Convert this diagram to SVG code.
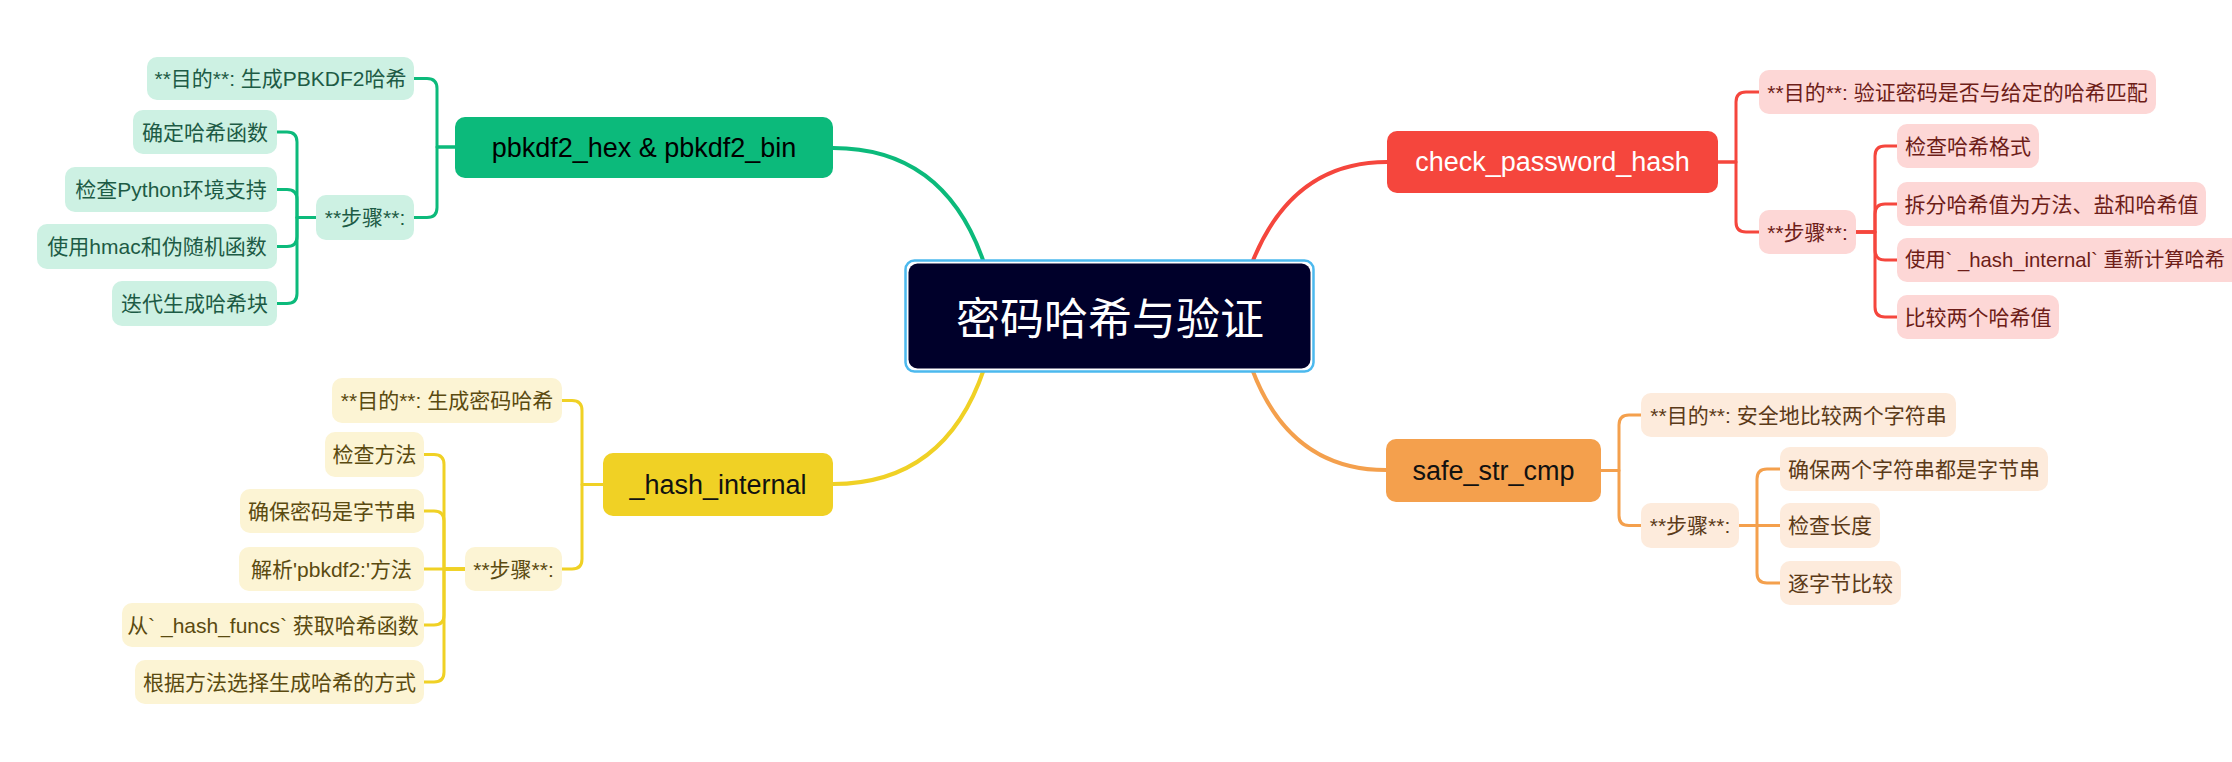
<svg xmlns="http://www.w3.org/2000/svg" width="2232" height="762" viewBox="0 0 2232 762">
<style>
.t{font-family:"Liberation Sans","Noto Sans CJK SC",sans-serif;font-size:21px;text-anchor:middle;dominant-baseline:central}
.b{font-family:"Liberation Sans","Noto Sans CJK SC",sans-serif;font-size:27px;text-anchor:middle;dominant-baseline:central}
.g .c{fill:#cdf1e3}.g .t{fill:#1d5b45}
.r .c{fill:#fdd7d6}.r .t{fill:#6d1d18}
.y .c{fill:#fcf4d4}.y .t{fill:#5a4a10}
.o .c{fill:#fdebdc}.o .t{fill:#5b3a18}
.conn path{fill:none;stroke-linecap:round;stroke-linejoin:round}
.m{stroke-width:4}.s{stroke-width:3}
.cg{stroke:#0cba7b}.cr{stroke:#f5463d}.cy{stroke:#f0d125}.co{stroke:#f4a04d}
</style>
<rect width="2232" height="762" fill="#ffffff"/>
<g id="connectors" class="conn">
<path class="m cg" d="M984,263 Q945,148 833,148"/>
<path class="m cr" d="M1252,263 Q1292,162 1387,162"/>
<path class="m cy" d="M984,369 Q945,484 833,484"/>
<path class="m co" d="M1252,369 Q1290,470 1386,470"/>
<path class="s cg" d="M455,147 H437 V88.5 Q437,78.5 427,78.5 H414"/>
<path class="s cg" d="M455,147 H437 V207.5 Q437,217.5 427,217.5 H414"/>
<path class="s cg" d="M316,217.5 H297 V142 Q297,132 287,132 H277"/>
<path class="s cg" d="M316,217.5 H297 V199.5 Q297,189.5 287,189.5 H277"/>
<path class="s cg" d="M316,217.5 H297 V236.5 Q297,246.5 287,246.5 H277"/>
<path class="s cg" d="M316,217.5 H297 V293.5 Q297,303.5 287,303.5 H277"/>
<path class="s cy" d="M603,484.5 H582 V410.5 Q582,400.5 572,400.5 H562"/>
<path class="s cy" d="M603,484.5 H582 V559 Q582,569 572,569 H562"/>
<path class="s cy" d="M465,569 H444 V464.5 Q444,454.5 434,454.5 H424"/>
<path class="s cy" d="M465,569 H444 V521 Q444,511 434,511 H424"/>
<path class="s cy" d="M465,569 H424"/>
<path class="s cy" d="M465,569 H444 V615 Q444,625 434,625 H424"/>
<path class="s cy" d="M465,569 H444 V672 Q444,682 434,682 H424"/>
<path class="s cr" d="M1718,162 H1736 V102 Q1736,92 1746,92 H1759"/>
<path class="s cr" d="M1718,162 H1736 V222 Q1736,232 1746,232 H1759"/>
<path class="s cr" d="M1856,232 H1875 V156 Q1875,146 1885,146 H1897"/>
<path class="s cr" d="M1856,232 H1875 V214 Q1875,204 1885,204 H1897"/>
<path class="s cr" d="M1856,232 H1875 V250 Q1875,260 1885,260 H1897"/>
<path class="s cr" d="M1856,232 H1875 V307 Q1875,317 1885,317 H1897"/>
<path class="s co" d="M1601,470.5 H1619 V425 Q1619,415 1629,415 H1641"/>
<path class="s co" d="M1601,470.5 H1619 V515.5 Q1619,525.5 1629,525.5 H1641"/>
<path class="s co" d="M1739,525.5 H1757 V479 Q1757,469 1767,469 H1780"/>
<path class="s co" d="M1739,525.5 H1780"/>
<path class="s co" d="M1739,525.5 H1757 V573 Q1757,583 1767,583 H1780"/>
</g>
<g id="root">
<rect x="905.5" y="260.5" width="408" height="111" rx="9" fill="#ffffff" stroke="#4cb9ee" stroke-width="2.5"/>
<rect x="908.5" y="263.5" width="402" height="105" rx="9" fill="#00002a"/>
<text x="1110" y="316" font-family="'Noto Sans CJK SC',sans-serif" font-size="44" fill="#ffffff" text-anchor="middle" dominant-baseline="central">密码哈希与验证</text>
</g>
<g id="pbkdf2" class="g">
<rect x="455" y="117" width="378" height="61" rx="10" fill="#0cba7b"/>
<text class="b" x="644" y="147.5" fill="#000000">pbkdf2_hex &amp; pbkdf2_bin</text>
</g>
<g id="pbkdf2-purpose" class="g"><rect class="c" x="147" y="57" width="267" height="43" rx="10"/><text class="t" x="280.5" y="78.5">**目的**: 生成PBKDF2哈希</text></g>
<g id="pbkdf2-steps" class="g"><rect class="c" x="316" y="195" width="98" height="45" rx="10"/><text class="t" x="365" y="217.5">**步骤**:</text></g>
<g id="pbkdf2-s1" class="g"><rect class="c" x="133" y="110" width="144" height="44" rx="10"/><text class="t" x="205" y="132">确定哈希函数</text></g>
<g id="pbkdf2-s2" class="g"><rect class="c" x="65" y="167" width="212" height="45" rx="10"/><text class="t" x="171" y="189.5">检查Python环境支持</text></g>
<g id="pbkdf2-s3" class="g"><rect class="c" x="37" y="224" width="240" height="45" rx="10"/><text class="t" x="157" y="246.5">使用hmac和伪随机函数</text></g>
<g id="pbkdf2-s4" class="g"><rect class="c" x="112" y="281" width="165" height="45" rx="10"/><text class="t" x="194.5" y="303.5">迭代生成哈希块</text></g>
<g id="hash-internal" class="y">
<rect x="603" y="453" width="230" height="63" rx="10" fill="#f0d125"/>
<text class="b" x="718" y="484.5" fill="#111111">_hash_internal</text>
</g>
<g id="hi-purpose" class="y"><rect class="c" x="332" y="378" width="230" height="45" rx="10"/><text class="t" x="447" y="400.5">**目的**: 生成密码哈希</text></g>
<g id="hi-steps" class="y"><rect class="c" x="465" y="547" width="97" height="44" rx="10"/><text class="t" x="513.5" y="569">**步骤**:</text></g>
<g id="hi-s1" class="y"><rect class="c" x="325" y="432" width="99" height="45" rx="10"/><text class="t" x="374.5" y="454.5">检查方法</text></g>
<g id="hi-s2" class="y"><rect class="c" x="240" y="489" width="184" height="44" rx="10"/><text class="t" x="332" y="511">确保密码是字节串</text></g>
<g id="hi-s3" class="y"><rect class="c" x="239" y="547" width="185" height="44" rx="10"/><text class="t" x="331.5" y="569">解析'pbkdf2:'方法</text></g>
<g id="hi-s4" class="y"><rect class="c" x="122" y="603" width="302" height="44" rx="10"/><text class="t" x="273" y="625">从` _hash_funcs` 获取哈希函数</text></g>
<g id="hi-s5" class="y"><rect class="c" x="135" y="660" width="289" height="44" rx="10"/><text class="t" x="279.5" y="682">根据方法选择生成哈希的方式</text></g>
<g id="check-password-hash" class="r">
<rect x="1387" y="131" width="331" height="62" rx="10" fill="#f5463d"/>
<text class="b" x="1552.5" y="162" fill="#ffffff">check_password_hash</text>
</g>
<g id="cph-purpose" class="r"><rect class="c" x="1759" y="70" width="397" height="44" rx="10"/><text class="t" x="1957.5" y="92">**目的**: 验证密码是否与给定的哈希匹配</text></g>
<g id="cph-steps" class="r"><rect class="c" x="1759" y="210" width="97" height="44" rx="10"/><text class="t" x="1807.5" y="232">**步骤**:</text></g>
<g id="cph-s1" class="r"><rect class="c" x="1897" y="124" width="142" height="44" rx="10"/><text class="t" x="1968" y="146">检查哈希格式</text></g>
<g id="cph-s2" class="r"><rect class="c" x="1897" y="182" width="309" height="44" rx="10"/><text class="t" x="2051.5" y="204">拆分哈希值为方法、盐和哈希值</text></g>
<g id="cph-s3" class="r"><rect class="c" x="1897" y="238" width="360" height="44" rx="10"/><text class="t" x="1905" y="260" style="text-anchor:start;font-size:20.3px">使用` _hash_internal` 重新计算哈希</text></g>
<g id="cph-s4" class="r"><rect class="c" x="1897" y="295" width="162" height="44" rx="10"/><text class="t" x="1978" y="317">比较两个哈希值</text></g>
<g id="safe-str-cmp" class="o">
<rect x="1386" y="439" width="215" height="63" rx="10" fill="#f4a04d"/>
<text class="b" x="1493.5" y="470.5" fill="#111111">safe_str_cmp</text>
</g>
<g id="ssc-purpose" class="o"><rect class="c" x="1641" y="393" width="315" height="44" rx="10"/><text class="t" x="1798.5" y="415">**目的**: 安全地比较两个字符串</text></g>
<g id="ssc-steps" class="o"><rect class="c" x="1641" y="503" width="98" height="45" rx="10"/><text class="t" x="1690" y="525.5">**步骤**:</text></g>
<g id="ssc-s1" class="o"><rect class="c" x="1780" y="447" width="268" height="44" rx="10"/><text class="t" x="1914" y="469">确保两个字符串都是字节串</text></g>
<g id="ssc-s2" class="o"><rect class="c" x="1780" y="503" width="100" height="45" rx="10"/><text class="t" x="1830" y="525.5">检查长度</text></g>
<g id="ssc-s3" class="o"><rect class="c" x="1780" y="561" width="121" height="44" rx="10"/><text class="t" x="1840.5" y="583">逐字节比较</text></g>
</svg>
